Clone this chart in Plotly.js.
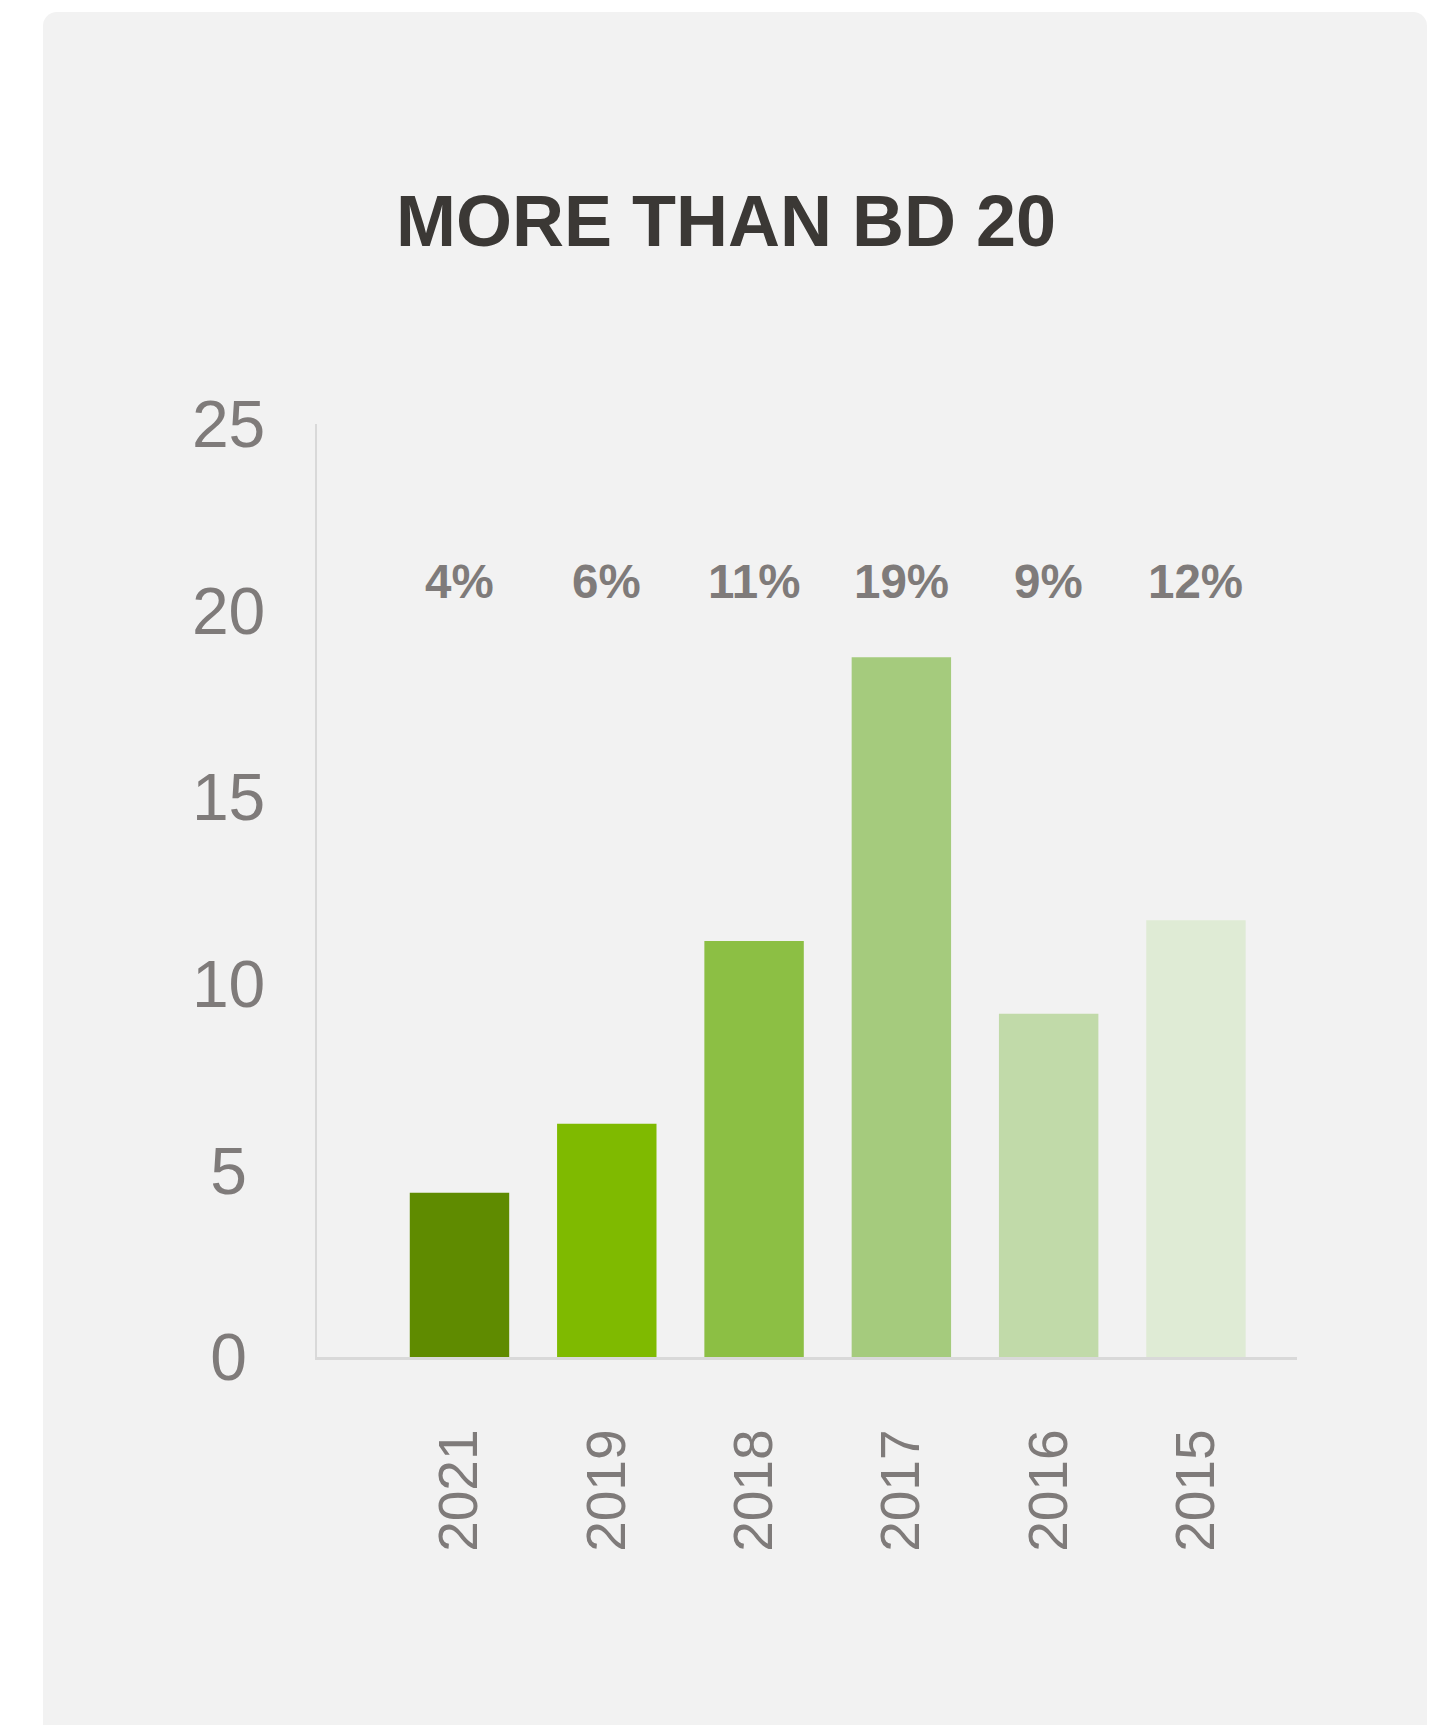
<!DOCTYPE html>
<html>
<head>
<meta charset="utf-8">
<script src="https://cdn.plot.ly/plotly-3.0.1.min.js"></script>
<style>
  html, body { margin: 0; padding: 0; background: #ffffff; width: 1430px; height: 1725px; overflow: hidden; }
  #panel { position: absolute; left: 43px; top: 12px; width: 1384px; height: 1740px; background: #f2f2f2; border-radius: 14px; }
  #chart { position: absolute; left: 0; top: 0; width: 1430px; height: 1725px; }
</style>
</head>
<body>
<div id="panel"></div>
<div id="chart"></div>
<script>
// Data
const years = ["2021", "2019", "2018", "2017", "2016", "2015"];
const values = [4.4, 6.25, 11.15, 18.75, 9.2, 11.7];
const pctLabels = ["4%", "6%", "11%", "19%", "9%", "12%"];
const barColors = ["#5f8b00", "#7fba00", "#8cbf44", "#a5cb7d", "#c1daa9", "#dfebd5"];
const yTickVals = [0, 5, 10, 15, 20, 25];
const yTickText = ["0\u00a0", "5\u00a0", "10", "15", "20", "25"];
const labelLevel = 20.77;
const titleText = "MORE THAN BD 20";

const FONT = "'Liberation Sans', Arial, Helvetica, sans-serif";
const GREY = "#7f7b7a";

const trace = {
  type: "bar",
  x: years,
  y: values,
  width: 0.675,
  marker: { color: barColors, line: { width: 0 } },
  hoverinfo: "skip"
};

const annotations = years.map((yr, i) => ({
  x: i, y: labelLevel, xref: "x", yref: "y",
  text: "<b>" + pctLabels[i] + "</b>",
  showarrow: false,
  xanchor: "center", yanchor: "middle",
  font: { family: FONT, size: 47.5, color: GREY }
}));

const layout = {
  width: 1430,
  height: 1725,
  paper_bgcolor: "rgba(0,0,0,0)",
  plot_bgcolor: "rgba(0,0,0,0)",
  margin: { l: 317, r: 133, t: 424, b: 368, pad: 0 },
  showlegend: false,
  title: {
    text: "<b>" + titleText + "</b>",
    font: { family: FONT, size: 72, color: "#3b3835" },
    xref: "container", yref: "container",
    x: 726 / 1430, xanchor: "center",
    y: 1 - 221 / 1725, yanchor: "middle"
  },
  xaxis: {
    type: "category",
    range: [-0.9674, 5.686],
    showgrid: false,
    zeroline: false,
    showline: true,
    linecolor: "#d9d9d9",
    linewidth: 2.5,
    ticks: "",
    tickangle: -90,
    ticklabelstandoff: 48,
    tickfont: { family: FONT, size: 55, color: GREY },
    layer: "below traces",
    fixedrange: true
  },
  yaxis: {
    range: [0, 25],
    tickvals: yTickVals,
    ticktext: yTickText,
    showgrid: false,
    zeroline: false,
    showline: true,
    linecolor: "#d9d9d9",
    linewidth: 2.5,
    ticks: "",
    ticklabelstandoff: 36,
    tickfont: { family: FONT, size: 66, color: GREY },
    layer: "below traces",
    fixedrange: true
  },
  annotations: annotations
};

Plotly.newPlot("chart", [trace], layout, { displayModeBar: false, staticPlot: true });
</script>
</body>
</html>
